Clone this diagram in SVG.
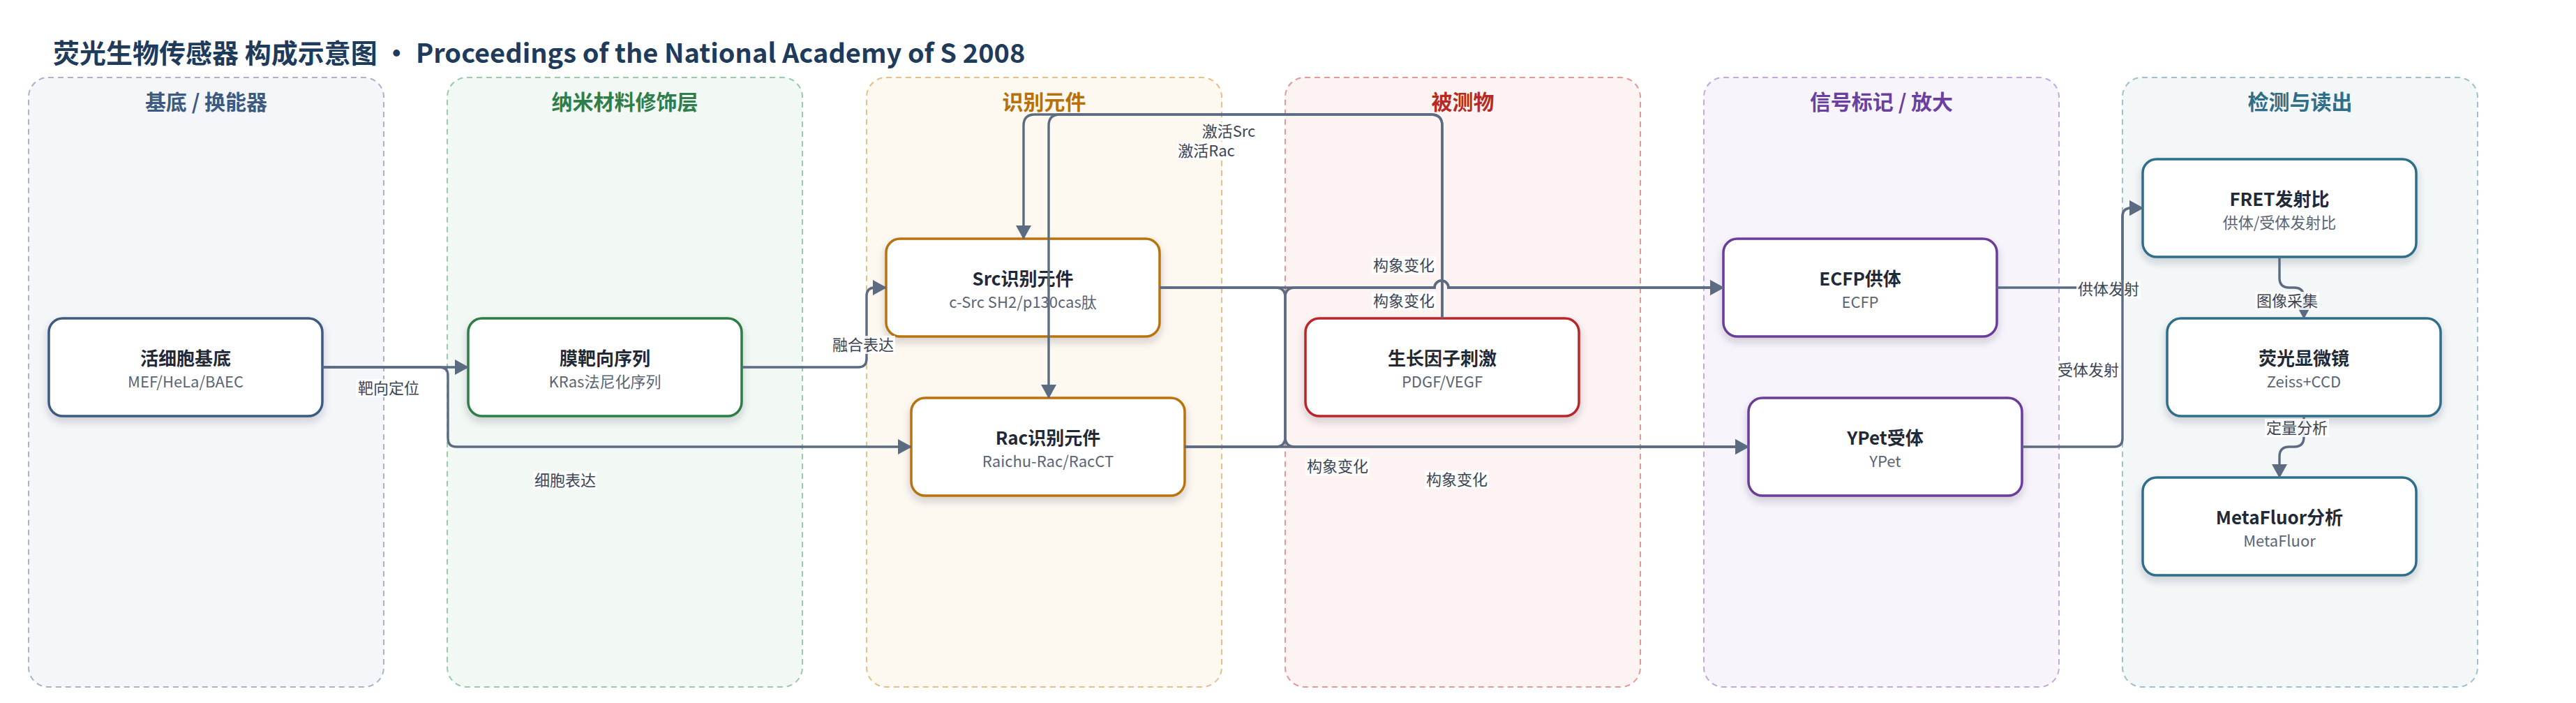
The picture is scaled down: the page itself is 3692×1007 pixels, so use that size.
<svg xmlns="http://www.w3.org/2000/svg" width="3692" height="1007" viewBox="0 0 3692 1007">
<defs>
<filter id="sh" x="-10%" y="-10%" width="120%" height="140%">
<feDropShadow dx="0" dy="6" stdDeviation="6" flood-color="#1f2937" flood-opacity="0.2"/>
</filter>
<marker id="arr" markerUnits="userSpaceOnUse" markerWidth="20" markerHeight="22" refX="19" refY="11" orient="auto">
<path d="M0,0 L20,11 L0,22 Z" fill="#5b6b82"/>
</marker>
</defs>
<style>
text{font-family:"Noto Sans CJK SC","Noto Sans",sans-serif;}
.title{font-size:38px;font-weight:700;fill:#1f3b5c;}
.lane{stroke-width:2;stroke-dasharray:8 6;}
.lt{font-size:30px;font-weight:700;text-anchor:middle;}
.node rect{fill:#fff;stroke-width:3.5;filter:url(#sh);}
.nt{font-size:26px;font-weight:700;fill:#1f2937;text-anchor:middle;}
.ns{font-size:22px;fill:#5a6475;text-anchor:middle;}
.edge{fill:none;stroke:#5b6b82;stroke-width:3.4;marker-end:url(#arr);}
.lb{fill:#fff;fill-opacity:0.85;}
.el{font-size:22px;fill:#3b4556;text-anchor:middle;}
</style>
<rect width="3692" height="1007" fill="#fff"/>
<text class="title" x="76" y="90">荧光生物传感器 构成示意图 · Proceedings of the National Academy of S 2008</text>

<g id="lanes">
<g id="lane1"><rect class="lane" x="41" y="111" width="509" height="873" rx="28" fill="#f5f6fa" stroke="#aab4c8"/><text class="lt" x="295.5" y="157" fill="#3d5a80">基底 / 换能器</text></g>
<g id="lane2"><rect class="lane" x="641" y="111" width="509" height="873" rx="28" fill="#f2f8f4" stroke="#9ccaa9"/><text class="lt" x="895.5" y="157" fill="#2e7d4a">纳米材料修饰层</text></g>
<g id="lane3"><rect class="lane" x="1242" y="111" width="509" height="873" rx="28" fill="#fdf8f0" stroke="#e6c08a"/><text class="lt" x="1496.5" y="157" fill="#b8700a">识别元件</text></g>
<g id="lane4"><rect class="lane" x="1842" y="111" width="509" height="873" rx="28" fill="#fdf3f2" stroke="#e39a96"/><text class="lt" x="2096.5" y="157" fill="#b52a25">被测物</text></g>
<g id="lane5"><rect class="lane" x="2442" y="111" width="509" height="873" rx="28" fill="#f7f4fb" stroke="#c3a9de"/><text class="lt" x="2696.5" y="157" fill="#6b3fa0">信号标记 / 放大</text></g>
<g id="lane6"><rect class="lane" x="3042" y="111" width="509" height="873" rx="28" fill="#f3f7f8" stroke="#9fc0cc"/><text class="lt" x="3296.5" y="157" fill="#2f6e8a">检测与读出</text></g>
</g>

<g id="nodes">
<g id="n-cell" class="node"><rect x="70" y="456" width="392" height="140" rx="20" stroke="#3d5a80"/><text class="nt" x="266" y="523">活细胞基底</text><text class="ns" x="266" y="555">MEF/HeLa/BAEC</text></g>
<g id="n-mem" class="node"><rect x="671" y="456" width="392" height="140" rx="20" stroke="#2e7d46"/><text class="nt" x="867" y="523">膜靶向序列</text><text class="ns" x="867" y="555">KRas法尼化序列</text></g>
<g id="n-src" class="node"><rect x="1270" y="342" width="392" height="140" rx="20" stroke="#b9730d"/><text class="nt" x="1466" y="409">Src识别元件</text><text class="ns" x="1466" y="441">c-Src SH2/p130cas肽</text></g>
<g id="n-rac" class="node"><rect x="1306" y="570" width="392" height="140" rx="20" stroke="#b9730d"/><text class="nt" x="1502" y="637">Rac识别元件</text><text class="ns" x="1502" y="669">Raichu-Rac/RacCT</text></g>
<g id="n-gf" class="node"><rect x="1871" y="456" width="392" height="140" rx="20" stroke="#b8262b"/><text class="nt" x="2067" y="523">生长因子刺激</text><text class="ns" x="2067" y="555">PDGF/VEGF</text></g>
<g id="n-ecfp" class="node"><rect x="2470" y="342" width="392" height="140" rx="20" stroke="#6a3d9a"/><text class="nt" x="2666" y="409">ECFP供体</text><text class="ns" x="2666" y="441">ECFP</text></g>
<g id="n-ypet" class="node"><rect x="2506" y="570" width="392" height="140" rx="20" stroke="#6a3d9a"/><text class="nt" x="2702" y="637">YPet受体</text><text class="ns" x="2702" y="669">YPet</text></g>
<g id="n-fret" class="node"><rect x="3071" y="228" width="392" height="140" rx="20" stroke="#2f6e8a"/><text class="nt" x="3267" y="295">FRET发射比</text><text class="ns" x="3267" y="327">供体/受体发射比</text></g>
<g id="n-mic" class="node"><rect x="3106" y="456" width="392" height="140" rx="20" stroke="#2f6e8a"/><text class="nt" x="3302" y="523">荧光显微镜</text><text class="ns" x="3302" y="555">Zeiss+CCD</text></g>
<g id="n-mf" class="node"><rect x="3071" y="684" width="392" height="140" rx="20" stroke="#2f6e8a"/><text class="nt" x="3267" y="751">MetaFluor分析</text><text class="ns" x="3267" y="783">MetaFluor</text></g>
</g>

<g id="connectors">
<path class="edge" d="M462,526 H671"/>
<rect class="lb" x="511" y="543" width="92" height="26"/><text class="el" x="557" y="564">靶向定位</text>
<path class="edge" d="M462,526 H630 Q642,526 642,538 V628 Q642,640 654,640 H1306"/>
<rect class="lb" x="764" y="675" width="92" height="26"/><text class="el" x="810" y="696">细胞表达</text>
<path class="edge" d="M1063,526 H1230 Q1242,526 1242,514 V424 Q1242,412 1254,412 H1270"/>
<rect class="lb" x="1191" y="481" width="92" height="26"/><text class="el" x="1237" y="502">融合表达</text>
<path class="edge" d="M1662,412 H2056 A10,10 0 0 1 2076,412 H2470"/>
<rect class="lb" x="1966" y="367" width="92" height="26"/><text class="el" x="2012" y="388">构象变化</text>
<path class="edge" d="M1662,412 H1828 Q1842,412 1842,426 V626 Q1842,640 1856,640 H2506"/>
<rect class="lb" x="1871" y="655" width="92" height="26"/><text class="el" x="1917" y="676">构象变化</text>
<path class="edge" d="M1698,640 H1828 Q1842,640 1842,626 V426 Q1842,412 1856,412 H2056 A10,10 0 0 1 2076,412 H2470"/>
<rect class="lb" x="1966" y="418" width="92" height="26"/><text class="el" x="2012" y="439">构象变化</text>
<path class="edge" d="M1698,640 H2506"/>
<rect class="lb" x="2042" y="674" width="92" height="26"/><text class="el" x="2088" y="695">构象变化</text>
<path class="edge" d="M2067,456 V180 Q2067,164 2051,164 H1483 Q1467,164 1467,180 V342"/>
<rect class="lb" x="1722" y="175" width="79" height="26"/><text class="el" x="1761" y="196">激活Src</text>
<path class="edge" d="M2067,456 V180 Q2067,164 2051,164 H1519 Q1503,164 1503,180 V570"/>
<rect class="lb" x="1687" y="203" width="84" height="26"/><text class="el" x="1729" y="224">激活Rac</text>
<path class="edge" d="M2862,412 H3030 Q3042,412 3042,400 V310 Q3042,298 3054,298 H3071"/>
<rect class="lb" x="2976" y="401" width="92" height="26"/><text class="el" x="3022" y="422">供体发射</text>
<path class="edge" d="M2898,640 H3030 Q3042,640 3042,628 V310 Q3042,298 3054,298 H3071"/>
<rect class="lb" x="2947" y="517" width="92" height="26"/><text class="el" x="2993" y="538">受体发射</text>
<path class="edge" d="M3267,368 V398 Q3267,412 3281,412 H3288 Q3302,412 3302,426 V456"/>
<rect class="lb" x="3232" y="418" width="92" height="26"/><text class="el" x="3278" y="439">图像采集</text>
<path class="edge" d="M3302,596 V626 Q3302,640 3288,640 H3281 Q3267,640 3267,654 V684"/>
<rect class="lb" x="3246" y="600" width="92" height="26"/><text class="el" x="3292" y="621">定量分析</text>
</g>
</svg>
